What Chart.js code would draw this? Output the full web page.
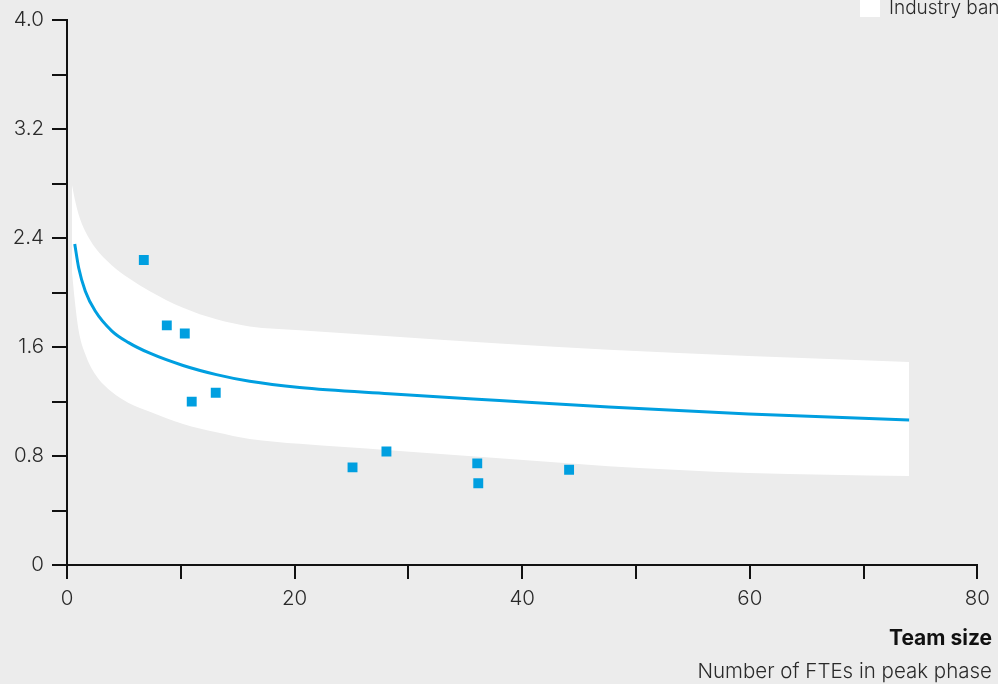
<!DOCTYPE html>
<html>
<head>
<meta charset="utf-8">
<script src="https://cdn.jsdelivr.net/npm/chart.js@4"></script>
<style>
  html, body { margin: 0; padding: 0; background: #ececec; }
  #wrap { width: 998px; height: 684px; position: relative; }
</style>
</head>
<body>
<div id="wrap"><canvas id="c"></canvas></div>
<script>
// ---- data ----
const pointX = [6.75, 8.77, 10.35, 10.96, 13.07, 25.09, 28.07, 36.05, 36.14, 44.12];
const pointY = [2.24, 1.76, 1.70, 1.20, 1.265, 0.717, 0.834, 0.746, 0.60, 0.70];

const lineX = [0.68, 1.03, 1.61, 2.48, 3.95, 5.41, 7.28, 10.2, 13.13, 16.05, 20.44, 28.3, 38.0, 47.6, 59.9, 74.0];
const lineY = [2.357, 2.181, 2.011, 1.865, 1.718, 1.633, 1.555, 1.465, 1.398, 1.349, 1.304, 1.258, 1.208, 1.160, 1.109, 1.065];

const bandX =     [0.44, 0.7,  1.03,  1.6,  2.48, 3.95, 5.41,  7.28,  10.2,  13.13, 16.05, 20.44, 28.3,  38.0,  47.6,  59.9,  74.0];
const bandUpper = [2.79, 2.68, 2.572, 2.45, 2.33, 2.20, 2.108, 2.011, 1.889, 1.804, 1.752, 1.724, 1.680, 1.627, 1.580, 1.534, 1.490];
const bandLower = [2.15, 1.93, 1.718, 1.55, 1.40, 1.27, 1.19,  1.125, 1.036, 0.975, 0.926, 0.890, 0.843, 0.783, 0.726, 0.676, 0.653];

const xTickLabels = ['0', '', '20', '', '40', '', '60', '', '80'];
const yTickLabels = ['0', '', '0.8', '', '1.6', '', '2.4', '', '3.2', '', '4.0'];

const legendLabel = 'Industry band';
const axisTitle = 'Team size';
const axisSubtitle = 'Number of FTEs in peak phase';

// ---- helpers ----
const zip = (xs, ys) => xs.map((x, i) => ({ x: x, y: ys[i] }));
const BLUE = '#009fe0';
const FONT = 'Inter, "Liberation Sans", Arial, sans-serif';
const TEXT = '#2a2a2a';
const FS = 20.5;

const bgPlugin = {
  id: 'bg',
  beforeDraw(chart) {
    const ctx = chart.ctx;
    ctx.save();
    ctx.fillStyle = '#ececec';
    ctx.fillRect(0, 0, chart.width, chart.height);
    ctx.restore();
  }
};

const textPlugin = {
  id: 'texts',
  afterDraw(chart) {
    const ctx = chart.ctx;
    ctx.save();
    // legend
    ctx.fillStyle = '#ffffff';
    ctx.fillRect(860, -3, 20, 20);
    ctx.fillStyle = TEXT;
    ctx.font = '300 19px ' + FONT;
    ctx.textAlign = 'left';
    ctx.textBaseline = 'alphabetic';
    ctx.fillText(legendLabel, 889, 14);
    // axis titles
    ctx.textAlign = 'right';
    ctx.fillStyle = '#111';
    ctx.font = 'bold 21px ' + FONT;
    ctx.fillText(axisTitle, 992, 645);
    ctx.fillStyle = TEXT;
    ctx.font = '300 ' + FS + 'px ' + FONT;
    ctx.fillText(axisSubtitle, 992, 678);
    ctx.restore();
  }
};

new Chart(document.getElementById('c'), {
  type: 'line',
  data: {
    datasets: [
      {
        label: 'Projects',
        data: zip(pointX, pointY),
        showLine: false,
        pointStyle: 'rect',
        pointRadius: 7,
        pointHoverRadius: 7,
        pointBorderWidth: 0,
        backgroundColor: BLUE,
        borderColor: BLUE
      },
      {
        label: 'Trend',
        data: zip(lineX, lineY),
        borderColor: BLUE,
        borderWidth: 3,
        pointRadius: 0,
        fill: false,
        cubicInterpolationMode: 'monotone'
      },
      {
        label: 'Band lower',
        data: zip(bandX, bandLower),
        borderWidth: 0,
        borderColor: 'rgba(0,0,0,0)',
        pointRadius: 0,
        fill: false,
        cubicInterpolationMode: 'monotone'
      },
      {
        label: legendLabel,
        data: zip(bandX, bandUpper),
        borderWidth: 0,
        borderColor: 'rgba(0,0,0,0)',
        backgroundColor: '#ffffff',
        pointRadius: 0,
        fill: 2,
        cubicInterpolationMode: 'monotone'
      }
    ]
  },
  options: {
    responsive: true,
    maintainAspectRatio: false,
    animation: false,
    events: [],
    layout: { padding: { top: 18, right: 17, left: 0, bottom: 0 } },
    plugins: {
      legend: { display: false },
      tooltip: { enabled: false },
      title: { display: false }
    },
    scales: {
      x: {
        type: 'linear',
        min: 0,
        max: 80,
        afterFit(scale) { scale.height = 119; },
        afterBuildTicks(scale) {
          scale.ticks = xTickLabels.map((_, i) => ({ value: i * 10 }));
        },
        ticks: {
          autoSkip: false,
          maxRotation: 0,
          padding: 8,
          color: TEXT,
          font: { family: FONT, size: FS, weight: 300 },
          callback: (v, i) => xTickLabels[i]
        },
        grid: {
          drawOnChartArea: false,
          drawTicks: true,
          tickLength: 14,
          color: '#111',
          lineWidth: 2
        },
        border: { display: true, color: '#111', width: 2 }
      },
      y: {
        type: 'linear',
        min: 0,
        max: 4,
        afterFit(scale) { scale.width = 67; },
        afterBuildTicks(scale) {
          scale.ticks = yTickLabels.map((_, i) => ({ value: i * 0.4 }));
        },
        ticks: {
          autoSkip: false,
          padding: 8,
          color: TEXT,
          font: { family: FONT, size: FS, weight: 300 },
          callback: (v, i) => yTickLabels[i]
        },
        grid: {
          drawOnChartArea: false,
          drawTicks: true,
          tickLength: 15,
          color: '#111',
          lineWidth: 2
        },
        border: { display: true, color: '#111', width: 2 }
      }
    }
  },
  plugins: [bgPlugin, textPlugin]
});
</script>
</body>
</html>
